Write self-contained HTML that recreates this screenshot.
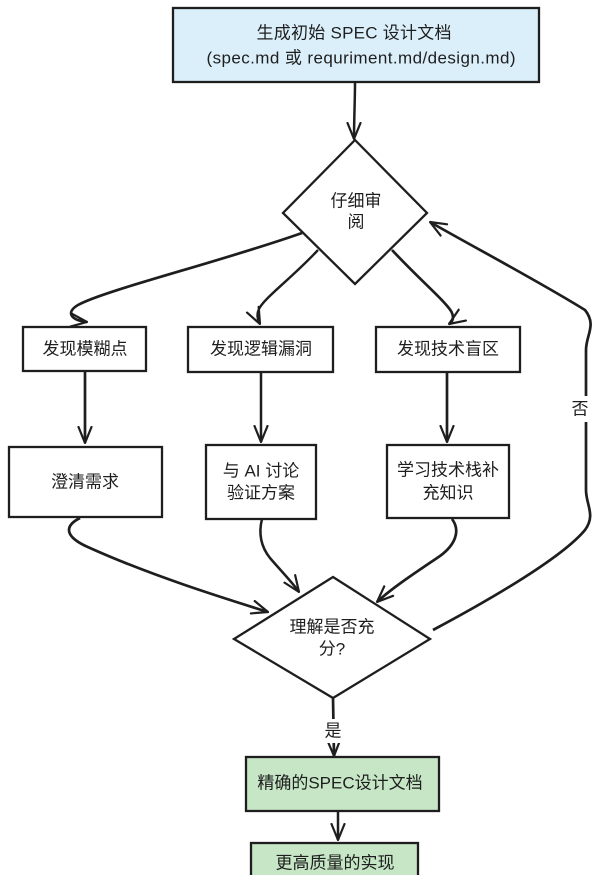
<!DOCTYPE html>
<html>
<head>
<meta charset="utf-8">
<style>
html,body{margin:0;padding:0;background:#ffffff;}
svg{display:block;}
text{font-family:"Liberation Sans","Noto Sans CJK SC",sans-serif;font-size:17px;fill:#1e1e1e;}
</style>
</head>
<body>
<svg width="600" height="875" viewBox="0 0 600 875" xmlns="http://www.w3.org/2000/svg">
<defs>
<marker id="a" viewBox="0 0 18 16" refX="17" refY="8" markerWidth="18" markerHeight="16" orient="auto" markerUnits="userSpaceOnUse">
<path d="M1,1.5 L17,8 L1,14.5" fill="none" stroke="#1e1e1e" stroke-width="2.2" stroke-linecap="round" stroke-linejoin="round"/>
</marker>
</defs>
<rect x="0" y="0" width="600" height="875" fill="#ffffff"/>

<!-- Top box -->
<rect x="173" y="8" width="366" height="74" fill="#dbeffb" stroke="#1e1e1e" stroke-width="2.3"/>
<text x="354" y="33" text-anchor="middle" dominant-baseline="central" textLength="195">生成初始 SPEC 设计文档</text>
<text x="361" y="58" text-anchor="middle" dominant-baseline="central" textLength="309">(spec.md 或 requriment.md/design.md)</text>

<!-- arrow top -> diamond1 -->
<path d="M355,83 C355,100 354,120 354,139" fill="none" stroke="#1e1e1e" stroke-width="2.5" marker-end="url(#a)"/>

<!-- Diamond 1 -->
<polygon points="355,140 427,213 355,284 283,213" fill="#ffffff" stroke="#1e1e1e" stroke-width="2.3"/>
<text x="356" y="201" text-anchor="middle" dominant-baseline="central">仔细审</text>
<text x="356" y="222" text-anchor="middle" dominant-baseline="central">阅</text>

<!-- arrows diamond1 -> row1 -->
<path d="M302,233 C220,262 105,290 78,305 C66,312 70,320 87,322" fill="none" stroke="#1e1e1e" stroke-width="2.7" marker-end="url(#a)"/>
<path d="M318,250 C292,278 264,298 259,309 C256,315 258,320 260,324" fill="none" stroke="#1e1e1e" stroke-width="2.4" marker-end="url(#a)"/>
<path d="M392,250 C420,280 444,300 451,311 C455,318 452,322 449,324" fill="none" stroke="#1e1e1e" stroke-width="2.7" marker-end="url(#a)"/>

<!-- Row 1 boxes -->
<rect x="23" y="327" width="123" height="44" fill="#ffffff" stroke="#1e1e1e" stroke-width="2.3"/>
<text x="85" y="349" text-anchor="middle" dominant-baseline="central">发现模糊点</text>
<rect x="188" y="327" width="145" height="45" fill="#ffffff" stroke="#1e1e1e" stroke-width="2.3"/>
<text x="261" y="349" text-anchor="middle" dominant-baseline="central">发现逻辑漏洞</text>
<rect x="376" y="327" width="144" height="45" fill="#ffffff" stroke="#1e1e1e" stroke-width="2.3"/>
<text x="448" y="349" text-anchor="middle" dominant-baseline="central">发现技术盲区</text>

<!-- vertical arrows -->
<path d="M85,371 L85,443" fill="none" stroke="#1e1e1e" stroke-width="2.7" marker-end="url(#a)"/>
<path d="M261,372 L261,442" fill="none" stroke="#1e1e1e" stroke-width="2.5" marker-end="url(#a)"/>
<path d="M447,372 L447,442" fill="none" stroke="#1e1e1e" stroke-width="2.7" marker-end="url(#a)"/>

<!-- Row 2 boxes -->
<rect x="9" y="447" width="153" height="70" fill="#ffffff" stroke="#1e1e1e" stroke-width="2.3"/>
<text x="85" y="482" text-anchor="middle" dominant-baseline="central">澄清需求</text>
<rect x="206" y="445" width="110" height="74" fill="#ffffff" stroke="#1e1e1e" stroke-width="2.3"/>
<text x="261" y="471" text-anchor="middle" dominant-baseline="central">与 AI 讨论</text>
<text x="261" y="493" text-anchor="middle" dominant-baseline="central">验证方案</text>
<rect x="387" y="445" width="122" height="73" fill="#ffffff" stroke="#1e1e1e" stroke-width="2.3"/>
<text x="448" y="470" text-anchor="middle" dominant-baseline="central">学习技术栈补</text>
<text x="448" y="493" text-anchor="middle" dominant-baseline="central">充知识</text>

<!-- row2 -> diamond2 -->
<path d="M80,518 C64,526 64,537 90,548 C150,575 220,597 268,612" fill="none" stroke="#1e1e1e" stroke-width="2.7" marker-end="url(#a)"/>
<path d="M262,519 C258,535 262,548 270,558 C282,572 292,582 299,592" fill="none" stroke="#1e1e1e" stroke-width="2.5" marker-end="url(#a)"/>
<path d="M452,519 C461,531 455,545 440,556 C415,573 392,588 377,602" fill="none" stroke="#1e1e1e" stroke-width="2.7" marker-end="url(#a)"/>

<!-- Diamond 2 -->
<polygon points="333,577 430,639 333,698 234,639" fill="#ffffff" stroke="#1e1e1e" stroke-width="2.3"/>
<text x="332" y="627" text-anchor="middle" dominant-baseline="central">理解是否充</text>
<text x="332" y="649" text-anchor="middle" dominant-baseline="central">分?</text>

<!-- loop back (否) -->
<path d="M433,630 C480,605 560,560 585,530 C596,515 586,505 586,490 L586,350 C586,335 597,325 585,310 C540,282 470,245 430,222" fill="none" stroke="#1e1e1e" stroke-width="2.7" marker-end="url(#a)"/>
<rect x="570" y="396" width="22" height="26" fill="#ffffff"/>
<text x="580" y="409" text-anchor="middle" dominant-baseline="central">否</text>

<!-- 是 arrow -->
<path d="M333,698 L334,756" fill="none" stroke="#1e1e1e" stroke-width="2.7" marker-end="url(#a)"/>
<rect x="322" y="719" width="24" height="24" fill="#ffffff"/>
<text x="333" y="731" text-anchor="middle" dominant-baseline="central">是</text>

<!-- Green box 1 -->
<rect x="246" y="757" width="193" height="54" fill="#c6e6c6" stroke="#1e1e1e" stroke-width="2.3"/>
<text x="340" y="783" text-anchor="middle" dominant-baseline="central">精确的SPEC设计文档</text>

<!-- arrow -->
<path d="M338,811 L338,840" fill="none" stroke="#1e1e1e" stroke-width="2.5" marker-end="url(#a)"/>

<!-- Green box 2 -->
<rect x="251" y="843" width="167" height="40" fill="#c6e6c6" stroke="#1e1e1e" stroke-width="2.3"/>
<text x="335" y="863" text-anchor="middle" dominant-baseline="central">更高质量的实现</text>
</svg>
</body>
</html>
